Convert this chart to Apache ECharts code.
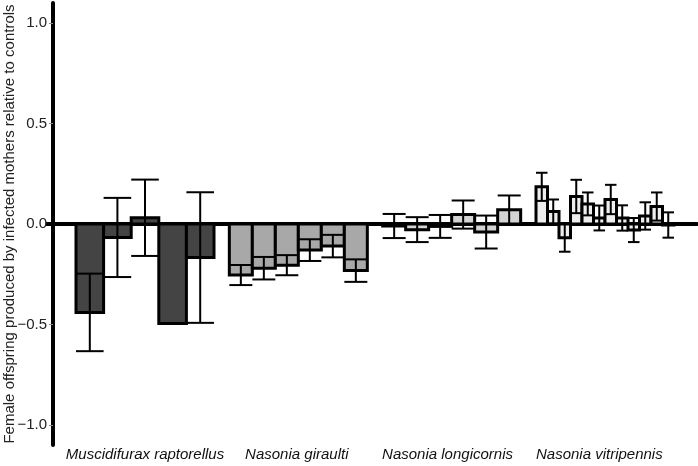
<!DOCTYPE html>
<html>
<head>
<meta charset="utf-8">
<script src="https://cdn.jsdelivr.net/npm/echarts@6/dist/echarts.min.js"></script>
<style>
  html, body { margin: 0; padding: 0; background: #fff; }
  #chart { width: 698px; height: 466px; }
</style>
</head>
<body>
<div id="chart"></div>
<script>
const groups = ['Muscidifurax raptorellus', 'Nasonia giraulti', 'Nasonia longicornis', 'Nasonia vitripennis']
const groupColors = ['#444444', '#a8a8a8', '#d4d4d4', '#eeeeee']

// mean difference and error half-width per strain
const muscMeans = [-0.44, -0.067, 0.031, -0.495, -0.167]
const muscErr = [0.193, 0.197, 0.19, 0, 0.325]
const giraultiMeans = [-0.254, -0.22, -0.205, -0.13, -0.11, -0.232]
const giraultiErr = [0.05, 0.056, 0.05, 0.054, 0.056, 0.056]
const longMeans = [-0.01, -0.028, -0.012, 0.047, -0.04, 0.071]
const longErr = [0.06, 0.062, 0.057, 0.07, 0.082, 0.071]
const vitMeans = [0.185, 0.062, -0.068, 0.137, 0.1, 0.03, 0.122, 0.03, -0.03, 0.04, 0.087, -0.005]
const vitErr = [0.07, 0.06, 0.07, 0.083, 0.057, 0.062, 0.073, 0.063, 0.06, 0.068, 0.07, 0.063]

const yTicks = [-1, -0.5, 0, 0.5, 1]
const groupCenters = [1, 2, 3, 4]
// the species labels sit a touch left of the later group centres
const groupLabelAt = [1, 1.99, 2.973, 3.963]

const FONT = '"Liberation Sans", Arial, sans-serif'
const GROUP_WIDTH = 0.9

const meansByGroup = [muscMeans, giraultiMeans, longMeans, vitMeans]
const errByGroup = [muscErr, giraultiErr, longErr, vitErr]

// each group is split into equal slots, one per strain
const buildGroupData = (gi) => {
  const means = meansByGroup[gi]
  const n = means.length
  const bw = GROUP_WIDTH / n
  return means.map((m, i) => [
    groupCenters[gi] - GROUP_WIDTH / 2 + (i + 0.5) * bw,
    m,
    errByGroup[gi][i],
    bw,
  ])
}

const renderBar = (color) => (params, api) => {
  const x = api.value(0)
  const m = api.value(1)
  const e = api.value(2)
  const w = api.value(3)
  const a = api.coord([x - w / 2, 0])
  const b = api.coord([x + w / 2, m])
  const top = api.coord([x, m + e])
  const bot = api.coord([x, m - e])
  const lineStyle = { stroke: '#000', lineWidth: 2 }
  return {
    type: 'group',
    children: [
      {
        type: 'rect',
        shape: { x: a[0], y: Math.min(a[1], b[1]), width: b[0] - a[0], height: Math.abs(b[1] - a[1]) },
        style: { fill: color, stroke: '#000', lineWidth: 3 },
      },
      { type: 'line', shape: { x1: top[0], y1: top[1], x2: bot[0], y2: bot[1] }, style: lineStyle },
      { type: 'line', shape: { x1: a[0], y1: top[1], x2: b[0], y2: top[1] }, style: lineStyle },
      { type: 'line', shape: { x1: a[0], y1: bot[1], x2: b[0], y2: bot[1] }, style: lineStyle },
    ],
  }
}

const fmt = (v) => v.toFixed(1).replace('-', '\u2212')

const chart = echarts.init(document.getElementById('chart'))
chart.setOption({
  animation: false,
  grid: { left: 53, right: 1, top: 3, bottom: 21, containLabel: false, outerBoundsMode: 'none' },
  xAxis: [
    {
      type: 'value',
      min: 0.4,
      max: 4.6,
      position: 'bottom',
      axisLine: { show: false },
      axisTick: { show: false },
      splitLine: { show: false },
      axisLabel: {
        customValues: groupLabelAt,
        formatter: (v) => groups[Math.round(v) - 1],
        fontStyle: 'italic',
        fontSize: 15,
        fontFamily: FONT,
        color: '#111',
        margin: 2,
      },
    },
    {
      // thick zero line across the plot
      type: 'value',
      min: 0.4,
      max: 4.6,
      axisLine: { show: true, onZero: true, lineStyle: { color: '#000', width: 4 } },
      axisTick: { show: false },
      axisLabel: { show: false },
      splitLine: { show: false },
    },
  ],
  yAxis: [
    {
      type: 'value',
      min: -1.1,
      max: 1.1,
      position: 'left',
      axisLine: { show: true, lineStyle: { color: '#000', width: 4 } },
      axisTick: { show: true, customValues: yTicks, length: 4, lineStyle: { color: '#888', width: 1 } },
      splitLine: { show: false },
      axisLabel: {
        customValues: yTicks,
        formatter: fmt,
        fontSize: 15,
        fontFamily: FONT,
        color: '#222',
        margin: 6,
      },
      name: 'Female offspring produced by infected mothers relative to controls',
      nameLocation: 'middle',
      nameGap: 36,
      nameMoveOverlap: false,
      nameTextStyle: { fontSize: 15, fontFamily: FONT, color: '#222' },
    },
    {
      // short thick tick where the zero line meets the axis
      type: 'value',
      min: -1.1,
      max: 1.1,
      position: 'left',
      axisLine: { show: false },
      axisTick: { show: true, customValues: [0], length: 7, lineStyle: { color: '#000', width: 4 } },
      axisLabel: { show: false },
      splitLine: { show: false },
    },
  ],
  series: groups.map((g, gi) => ({
    name: g,
    type: 'custom',
    xAxisIndex: 0,
    yAxisIndex: 0,
    renderItem: renderBar(groupColors[gi]),
    data: buildGroupData(gi),
  })),
})
</script>
</body>
</html>
